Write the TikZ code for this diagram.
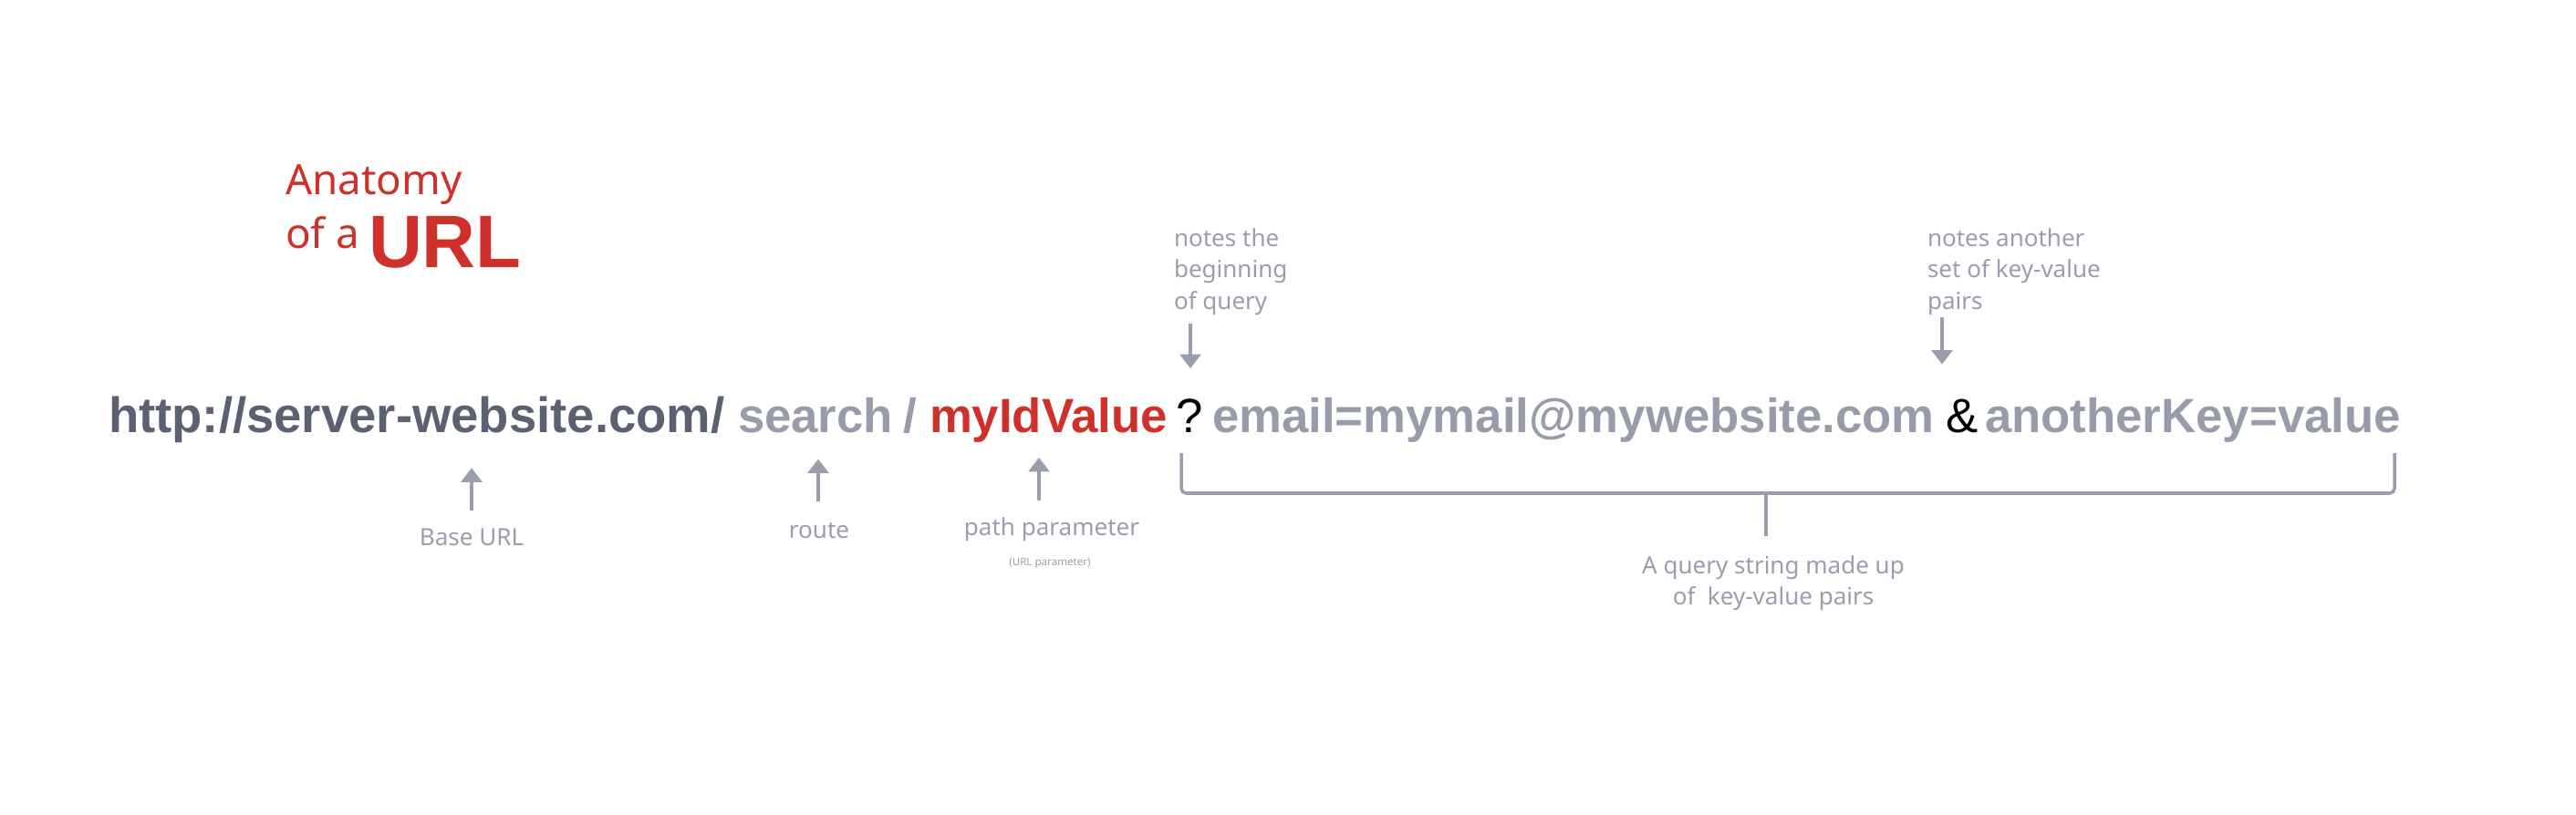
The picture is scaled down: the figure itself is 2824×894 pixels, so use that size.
\documentclass[tikz,border=0pt]{standalone}
\usepackage{fontspec}
\setmainfont{Noto Sans}
\newfontfamily\urlfont{Liberation Sans}
\usetikzlibrary{arrows.meta}
\definecolor{urlred}{HTML}{D0302A}
\definecolor{urldark}{HTML}{5B6172}
\definecolor{urlgray}{HTML}{989CAA}
\definecolor{notegray}{HTML}{9A9EAC}
\begin{document}
\begin{tikzpicture}[x=0.01cm, y=-0.01cm,
	every node/.style={inner sep=0pt, outer sep=0pt},
	part/.style={anchor=base west, font=\urlfont\bfseries\fontsize{15}{18}\selectfont, text=urlgray},
	sep/.style={anchor=base west, font=\urlfont\fontsize{15}{18}\selectfont, text=black},
	note/.style={font=\fontsize{7.4}{9.7}\selectfont, text=notegray},
	ptr/.style={draw=notegray, line width=1pt, -{Triangle[width=6.5pt,length=4.4pt]}},
	brk/.style={draw=notegray, line width=1pt, rounded corners=1.5pt}]
			\useasboundingbox (0,0) rectangle (2824,894);
			% title
			\node[anchor=base west, text=urlred, font=\fontsize{13}{15}\selectfont] (anat) at (313,213) {Anatomy};
			\node[anchor=base west, text=urlred, font=\fontsize{13}{15}\selectfont] (ofa) at (313,272) {of a};
			\node[anchor=base west, text=urlred, font=\urlfont\bfseries\fontsize{23.2}{28}\selectfont] (url) at (404,293) {URL};
			% the url itself
			\node[part, text=urldark, font=\urlfont\bfseries\fontsize{15.5}{18}\selectfont] (base) at (119,474) {http://server-website.com/};
			\node[part] (route) at (809,474) {search};
			\node[part] (slash) at (990,474) {/};
			\node[part, text=urlred] (pathval) at (1019,474) {myIdValue};
			\node[sep] (qmark) at (1289,474) {?};
			\node[part] (qpair) at (1329,474) {email=mymail@mywebsite.com};
			\node[sep] (amp) at (2133,474) {\&};
			\node[part] (kvpair) at (2176,474) {anotherKey=value};
			% labels
			\node[note, anchor=base] (lblbase) at (517,598) {Base URL};
			\node[note, anchor=base] (lblroute) at (898,590) {route};
			\node[note, anchor=base] (lblpath) at (1153,587) {path parameter};
			\node[note, anchor=base, font=\bfseries\fontsize{3.3}{4}\selectfont] (lblpathsub) at (1151,620) {(URL parameter)};
			\node[note, anchor=north west, align=left] (noteq) at (1287,251) {notes the\\beginning\\of query};
			\node[note, anchor=north west, align=left] (notekv) at (2113,251) {notes another\\set of key-value\\pairs};
			\node[note, anchor=north, align=center] (lblquery) at (1944,610) {A query string made up\\of\ \ key-value pairs};
			% arrows
			\coordinate (arbase) at (517,560);
			\coordinate (arroute) at (897,550);
			\coordinate (arpath) at (1139,549);
			\coordinate (arq) at (1305,355);
			\coordinate (aramp) at (2129,348);
			\draw[ptr, shorten >=0.28cm] (arbase) -- (arbase |- base.south);
			\draw[ptr, shorten >=0.29cm] (arroute) -- (arroute |- route.south);
			\draw[ptr, shorten >=0.17cm] (arpath) -- (arpath |- pathval.south);
			\draw[ptr, shorten >=0.33cm] (arq) -- (arq |- qmark.north);
			\draw[ptr, shorten >=0.38cm] (aramp) -- (aramp |- amp.north);
			% bracket under the query
			\coordinate (qleft) at (1295,497);
			\coordinate (qright) at (2625,497);
			\coordinate (qmid) at (1936,541);
			\draw[brk] (qleft) -- (qleft |- qmid) -- (qright |- qmid) -- (qright);
			\draw[brk, shorten >=0.22cm] (qmid) -- (qmid |- lblquery.north);
	\end{tikzpicture}
\end{document}
